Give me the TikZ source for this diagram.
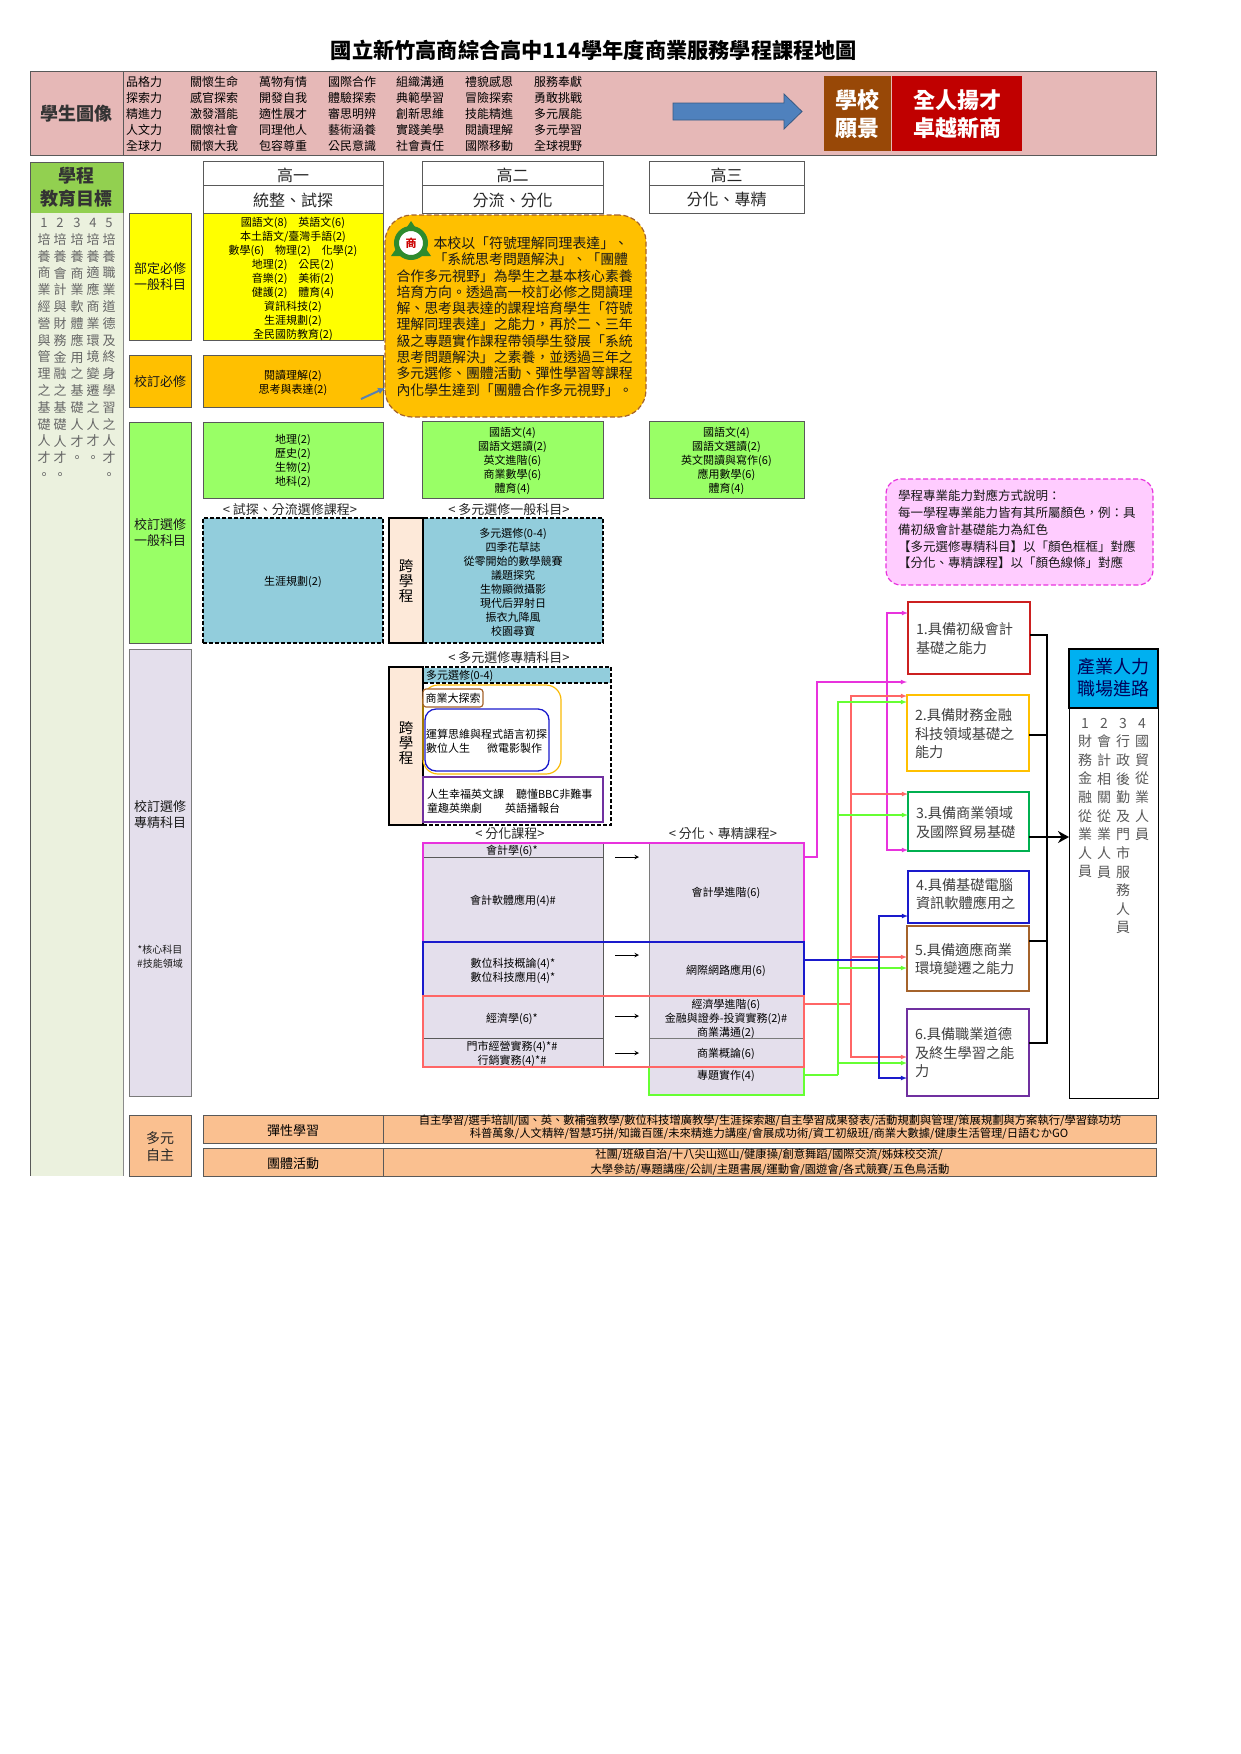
\documentclass[tikz,border=0pt]{standalone}
\usepackage{fontspec}
\setmainfont{Noto Sans CJK TC}
\usetikzlibrary{arrows,arrows.meta,positioning,fit}

\definecolor{bandpink}{HTML}{E6B8B7}
\definecolor{edgegray}{HTML}{595959}
\definecolor{palegreen}{HTML}{EBF1DE}
\definecolor{headgreen}{HTML}{92D050}
\definecolor{brightyellow}{HTML}{FFFF00}
\definecolor{orangefill}{HTML}{FFC000}
\definecolor{lawn}{HTML}{99FF66}
\definecolor{teal}{HTML}{92CDDC}
\definecolor{lavender}{HTML}{E4DFEC}
\definecolor{peach}{HTML}{FDE9D9}
\definecolor{salmon}{HTML}{FAC090}
\definecolor{schoolbrown}{HTML}{984807}
\definecolor{schoolred}{HTML}{C00000}
\definecolor{arrowblue}{HTML}{4F81BD}
\definecolor{notepink}{HTML}{FFCCFF}
\definecolor{linkpink}{HTML}{E833DD}
\definecolor{linkred}{HTML}{FF6666}
\definecolor{linkgreen}{HTML}{66FF33}
\definecolor{linkblue}{HTML}{1A1ACC}
\definecolor{compbrown}{HTML}{A5632B}
\definecolor{comppurple}{HTML}{7030A0}
\definecolor{compgreen}{HTML}{00B050}
\definecolor{compred}{HTML}{CC2020}
\definecolor{skyblue}{HTML}{00B0F0}
\definecolor{logogreen}{HTML}{2E8B2E}
\newcommand{\fsz}[2]{\fontsize{#1}{#2}\selectfont}

\tikzset{
	area/.style={inner sep=0pt, outer sep=0pt, draw=edgegray, line width=.8pt},
	txt/.style={inner sep=0pt, outer sep=0pt, align=center, font=\fsz{11}{14}},
	rowtxt/.style={inner sep=0pt, outer sep=0pt, align=left, anchor=west, font=\fsz{12}{16}},
	captxt/.style={inner sep=0pt, outer sep=0pt, font=\fsz{13}{15}, text=black!85},
	cattxt/.style={inner sep=0pt, outer sep=0pt, align=center, font=\fsz{13}{16}, text=black!90},
	yeartxt/.style={inner sep=0pt, outer sep=0pt, font=\fsz{16}{18}, text=black!85},
	whitetxt/.style={inner sep=0pt, outer sep=0pt, align=center, text=white, font=\fsz{22}{28}\bfseries},
	headtxt/.style={inner sep=0pt, outer sep=0pt, align=center, font=\fsz{18}{23}\bfseries, text=black!80},
	dashbox/.style={area, draw=black, dash pattern=on 4pt off 2pt, line width=1.2pt, fill=teal},
	crossbox/.style={area, draw=black, line width=1.3pt, fill=peach},
	crosstxt/.style={inner sep=0pt, align=center, font=\fsz{14.5}{15}},
	objcol/.style={inner sep=0pt, align=center, anchor=north, font=\fsz{13}{16.8}, text=black!60},
	jobcol/.style={inner sep=0pt, align=center, anchor=north, font=\fsz{14}{18.6}, text=black!65},
	compbox/.style={area, line width=1.4pt, fill=white},
	comptxt/.style={inner sep=0pt, align=left, text width=104pt, font=\fsz{14.2}{18.5}, text=black!75},
	linkline/.style={line width=1.1pt},
	busline/.style={line width=2pt, draw=black},
	gaparrow/.style={-stealth, line width=1pt, shorten <=12pt, shorten >=10pt},
}

\begin{document}
\begin{tikzpicture}[x=1pt,y=-1pt]
	\useasboundingbox (0,0) rectangle (1240,1754);

	\node (title) [inner sep=0pt, font=\fsz{21.2}{24}\bfseries] at (594,50) {國立新竹高商綜合高中114學年度商業服務學程課程地圖};

	\node (band) [area, fill=bandpink, fit={(123,71) (1156,155)}] {};
	\node (portrait) [area, fill=bandpink, fit={(30,71) (123,155)}] {};
	\node (portraitTxt) [headtxt] at (76,114) {學生圖像};
	\node (traitA) [rowtxt] at (126,114) {品格力\\探索力\\精進力\\人文力\\全球力};
	\node (traitB) [rowtxt] at (190,114) {關懷生命\\感官探索\\激發潛能\\關懷社會\\關懷大我};
	\node (traitC) [rowtxt] at (259,114) {萬物有情\\開發自我\\適性展才\\同理他人\\包容尊重};
	\node (traitD) [rowtxt] at (328,114) {國際合作\\體驗探索\\審思明辨\\藝術涵養\\公民意識};
	\node (traitE) [rowtxt] at (396,114) {組織溝通\\典範學習\\創新思維\\實踐美學\\社會責任};
	\node (traitF) [rowtxt] at (465,114) {禮貌感恩\\冒險探索\\技能精進\\閱讀理解\\國際移動};
	\node (traitG) [rowtxt] at (534,114) {服務奉獻\\勇敢挑戰\\多元展能\\多元學習\\全球視野};
	\draw [arrowblue!70!black, fill=arrowblue, line width=.8pt] (673,103) -- (784,103) -- (784,94) -- (802,111.5) -- (784,129) -- (784,120) -- (673,120) -- cycle;
	\node (visionHead) [area, draw=none, fill=schoolbrown, fit={(824,76) (891,151)}] {};
	\node (visionBody) [area, draw=none, fill=schoolred, fit={(892,76) (1022,151)}] {};
	\node (visionHeadTxt) [whitetxt] at (857.5,114) {學校\\願景};
	\node (visionBodyTxt) [whitetxt] at (957,114) {全人揚才\\卓越新商};

	\node (eduHead) [area, fill=headgreen, fit={(30,162) (123,213)}] {};
	\node (eduHeadTxt) [headtxt] at (76,187) {學程\\教育目標};
	\node (eduBody) [inner sep=0pt, outer sep=0pt, fill=palegreen, fit={(30,213) (123,1176)}] {};
	\draw [edgegray, line width=.8pt] (eduBody.north west) -- (eduBody.south west);
	\draw [edgegray!70, line width=.8pt] (eduBody.north east) -- (eduBody.south east);
	\node (eduA) [objcol] at (44,218) {1\\培\\養\\商\\業\\經\\營\\與\\管\\理\\之\\基\\礎\\人\\才\\。};
	\node (eduB) [objcol] at (60,218) {2\\培\\養\\會\\計\\與\\財\\務\\金\\融\\之\\基\\礎\\人\\才\\。};
	\node (eduC) [objcol] at (77,218) {3\\培\\養\\商\\業\\軟\\體\\應\\用\\之\\基\\礎\\人\\才\\。};
	\node (eduD) [objcol] at (93,218) {4\\培\\養\\適\\應\\商\\業\\環\\境\\變\\遷\\之\\人\\才\\。};
	\node (eduE) [objcol] at (109,218) {5\\培\\養\\職\\業\\道\\德\\及\\終\\身\\學\\習\\之\\人\\才\\。};

	\node (yearA) [area, fit={(203,161) (383,185)}] {};
	\node (focusA) [area, fit={(203,185) (383,213)}] {};
	\node (yearB) [area, fit={(422,161) (603,185)}] {};
	\node (focusB) [area, fit={(422,185) (603,213)}] {};
	\node (yearC) [area, fit={(649,161) (804,185)}] {};
	\node (focusC) [area, fit={(649,185) (804,213)}] {};
	\node (yearATxt) [yeartxt] at (293,175) {高一};
	\node (focusATxt) [yeartxt] at (293,200) {統整、試探};
	\node (yearBTxt) [yeartxt] at (512.5,175) {高二};
	\node (focusBTxt) [yeartxt] at (512.5,200) {分流、分化};
	\node (yearCTxt) [yeartxt] at (726.5,175) {高三};
	\node (focusCTxt) [yeartxt] at (726.5,200) {分化、專精};

	\node (reqCat) [area, fill=brightyellow, fit={(129,213) (191,340)}] {};
	\node (reqCatTxt) [cattxt] at (160,277) {部定必修\\一般科目};
	\node (reqBox) [area, fill=brightyellow, fit={(203,213) (383,340)}] {};
	\node (reqTxt) [txt] at (293,279) {國語文(8)\quad 英語文(6)\\本土語文/臺灣手語(2)\\數學(6)\quad 物理(2)\quad 化學(2)\\地理(2)\quad 公民(2)\\音樂(2)\quad 美術(2)\\健護(2)\quad 體育(4)\\資訊科技(2)\\生涯規劃(2)\\全民國防教育(2)};
	\node (schCat) [area, fill=orangefill, fit={(129,355) (191,407)}] {};
	\node (schCatTxt) [cattxt] at (160,382) {校訂必修};
	\node (schBox) [area, fill=orangefill, fit={(203,355) (383,407)}] {};
	\node (schTxt) [txt] at (293,383) {閱讀理解(2)\\思考與表達(2)};

	\node (bubble) [area, draw=compbrown, dash pattern=on 5pt off 2.5pt, line width=1.2pt, rounded corners=27pt, fill=orangefill, fit={(385,215) (646,417)}] {};
	\node (bubbleTxt) [inner sep=0pt, align=left, text width=238pt, font=\fsz{13.9}{16.3}, text=black!90] at (515.5,316.5) {\hspace*{37pt}本校以「符號理解同理表達」、\\\hspace*{37pt}「系統思考問題解決」、「團體\\合作多元視野」為學生之基本核心素養\\培育方向。透過高一校訂必修之閱讀理\\解、思考與表達的課程培育學生「符號\\理解同理表達」之能力，再於二、三年\\級之專題實作課程帶領學生發展「系統\\思考問題解決」之素養，並透過三年之\\多元選修、團體活動、彈性學習等課程\\內化學生達到「團體合作多元視野」。};
	\coordinate (noteTail) at (361,399);
	\draw [-{Latex[length=7pt,width=7pt]}, arrowblue!80!gray, line width=2pt] (noteTail) -- (bubble.west |- 0,388);
	\node (logoRing) [circle, draw=logogreen, line width=5pt, fill=white, inner sep=0pt, minimum size=29pt] at (411,243) {};
	\fill [logogreen] (411,221) -- (405,230) -- (417,230) -- cycle;
	\fill [logogreen] (391,256) -- (398,246) -- (404,256) -- cycle;
	\fill [logogreen] (431,256) -- (424,246) -- (418,256) -- cycle;
	\node (logoText) [inner sep=0pt, text=red!80!black, font=\fsz{11}{11}\bfseries] at (411,243) {商};

	\node (genCat) [area, fill=lawn, fit={(129,422) (191,643)}] {};
	\node (genCatTxt) [cattxt] at (160,533) {校訂選修\\一般科目};
	\node (genA) [area, fill=lawn, fit={(203,422) (383,498)}] {};
	\node (genB) [area, fill=lawn, fit={(422,421) (603,498)}] {};
	\node (genC) [area, fill=lawn, fit={(649,421) (804,498)}] {};
	\node (genATxt) [txt] at (293,460.5) {地理(2)\\歷史(2)\\生物(2)\\地科(2)};
	\node (genBTxt) [txt] at (512.5,460.5) {國語文(4)\\國語文選讀(2)\\英文進階(6)\\商業數學(6)\\體育(4)};
	\node (genCTxt) [txt] at (726.5,460.5) {國語文(4)\\國語文選讀(2)\\英文閱讀與寫作(6)\\應用數學(6)\\體育(4)};

	\node (capTrial) [captxt] at (290,510) {< 試探、分流選修課程>};
	\node (capGeneral) [captxt] at (509,510) {< 多元選修一般科目>};
	\node (trialBox) [dashbox, fit={(203,518) (383,643)}] {};
	\node (trialTxt) [txt] at (293,582) {生涯規劃(2)};
	\node (generalBox) [dashbox, fit={(423,518) (603,643)}] {};
	\node (crossA) [crossbox, fit={(389,518) (423,643)}] {};
	\node (crossATxt) [crosstxt] at (406,581) {跨\\學\\程};
	\node (generalTxt) [txt] at (513,582) {多元選修(0-4)\\四季花草誌\\從零開始的數學競賽\\議題探究\\生物顯微攝影\\現代后羿射日\\振衣九降風\\校園尋寶};

	\node (specCat) [area, fill=lavender, draw=edgegray!80, fit={(129,649) (191,1096)}] {};
	\node (specCatTxt) [cattxt] at (160,815) {校訂選修\\專精科目};
	\node (specNote) [inner sep=0pt, align=center, font=\fsz{10}{14}, text=black!90] at (160,957) {*核心科目\\\#技能領域};

	\node (capSpec) [captxt] at (509,658) {< 多元選修專精科目>};
	\node (specOuter) [area, draw=black, dash pattern=on 4pt off 2pt, line width=1.2pt, fit={(423,667) (611,825)}] {};
	\node (specTop) [inner sep=0pt, outer sep=0pt, fill=teal, fit={(424,668) (610,683)}] {};
	\draw [black, dash pattern=on 4pt off 2pt, line width=1.2pt] (specTop.south west) -- (specTop.south east);
	\node (specTopTxt) [txt, anchor=west] at (426,676) {多元選修(0-4)};
	\node (crossB) [crossbox, fit={(389,667) (423,825)}] {};
	\node (crossBTxt) [crosstxt] at (406,743) {跨\\學\\程};
	\node (goldRound) [area, draw=orangefill!90!brown, line width=1.2pt, rounded corners=15pt, fit={(423,685) (561,774)}] {};
	\node (bizExplore) [area, draw=compbrown, line width=1.2pt, rounded corners=3pt, fill=white, fit={(423,689) (483,707)}] {};
	\node (bizExploreTxt) [txt] at (453,698) {商業大探索};
	\node (blueRound) [area, draw=linkblue, line width=1.3pt, rounded corners=11pt, fit={(425,709) (549,771)}] {};
	\node (blueTxtA) [txt, anchor=west] at (426,734) {運算思維與程式語言初探};
	\node (blueTxtB) [txt, anchor=west] at (426,748) {數位人生};
	\node (blueTxtC) [txt, anchor=west] at (487,748) {微電影製作};
	\node (purpleBox) [area, draw=comppurple, line width=1.2pt, fit={(423,777) (603,822)}] {};
	\node (purpleTxtA) [txt, anchor=west] at (427,794) {人生幸福英文課};
	\node (purpleTxtB) [txt, anchor=west] at (516,794) {聽懂BBC非難事};
	\node (purpleTxtC) [txt, anchor=west] at (427,808) {童趣英樂劇};
	\node (purpleTxtD) [txt, anchor=west] at (505,808) {英語播報台};

	\node (capBranch) [captxt] at (510,834) {< 分化課程>};
	\node (capMajor) [captxt] at (723,834) {< 分化、專精課程>};
	\node (acctA) [area, fill=lavender, fit={(423,843) (603,857)}] {};
	\node (acctB) [area, fill=lavender, fit={(423,857) (603,942)}] {};
	\node (digi) [area, fill=lavender, fit={(423,942) (603,996)}] {};
	\node (econ) [area, fill=lavender, fit={(423,996) (603,1038)}] {};
	\node (shop) [area, fill=lavender, fit={(423,1038) (603,1067)}] {};
	\node (acctR) [area, draw=edgegray!80, fill=lavender, fit={(649,843) (804,942)}] {};
	\node (netR) [area, draw=edgegray!80, fill=lavender, fit={(649,942) (804,996)}] {};
	\node (econR) [area, draw=edgegray!80, fill=lavender, fit={(649,996) (804,1038)}] {};
	\node (bizR) [area, draw=edgegray!80, fill=lavender, fit={(649,1038) (804,1067)}] {};
	\node (projR) [area, draw=linkgreen, line width=1.4pt, fill=lavender, fit={(649,1067) (804,1095)}] {};
	\node (acctATxt) [txt] at (512,851) {會計學(6)*};
	\node (acctBTxt) [txt] at (513,901) {會計軟體應用(4)\#};
	\node (digiTxt) [txt] at (513,971) {數位科技概論(4)*\\數位科技應用(4)*};
	\node (econTxt) [txt] at (512,1019) {經濟學(6)*};
	\node (shopTxt) [txt] at (512,1054) {門市經營實務(4)*\#\\行銷實務(4)*\#};
	\node (acctRTxt) [txt] at (726,893) {會計學進階(6)};
	\node (netRTxt) [txt] at (726,971) {網際網路應用(6)};
	\node (econRTxt) [txt] at (726,1019) {經濟學進階(6)\\金融與證券-投資實務(2)\#\\商業溝通(2)};
	\node (bizRTxt) [txt] at (726,1054) {商業概論(6)};
	\node (projRTxt) [txt] at (726,1076) {專題實作(4)};
	\draw [linkpink, line width=1.4pt] (acctA.north west) rectangle (acctR.south east);
	\draw [linkblue, line width=1.4pt] (digi.north west) rectangle (netR.south east);
	\draw [linkred, line width=1.4pt] (econ.north west) rectangle (bizR.south east);
	\draw [gaparrow] (acctA.south east) -- (acctR.west |- acctA.south east);
	\draw [gaparrow] (digi.east |- 0,955) -- (netR.west |- 0,955);
	\draw [gaparrow] (econ.east |- 0,1016) -- (econR.west |- 0,1016);
	\draw [gaparrow] (shop.east |- 0,1053) -- (bizR.west |- 0,1053);

	\node (note) [area, draw=linkpink, dash pattern=on 5pt off 2.5pt, line width=1.2pt, rounded corners=15pt, fill=notepink, fit={(886,479) (1153,585)}] {};
	\node (noteTxt) [inner sep=0pt, align=left, text width=243pt, font=\fsz{12.5}{16.7}, text=black!90] at (1019.5,529.5) {學程專業能力對應方式說明：\\每一學程專業能力皆有其所屬顏色，例：具\\備初級會計基礎能力為紅色\\【多元選修專精科目】以「顏色框框」對應\\【分化、專精課程】以「顏色線條」對應};

	\node (comp1) [compbox, draw=compred, fit={(908,602) (1030,674)}] {};
	\node (comp2) [compbox, draw=orangefill, fit={(907,695) (1029,771)}] {};
	\node (comp3) [compbox, draw=compgreen, fit={(908,792) (1029,851)}] {};
	\node (comp4) [compbox, draw=linkblue, fit={(908,871) (1029,923)}] {};
	\node (comp5) [compbox, draw=compbrown, fit={(907,926) (1029,991)}] {};
	\node (comp6) [compbox, draw=comppurple, fit={(907,1009) (1029,1096)}] {};
	\node (comp1Txt) [comptxt] at (968,638.5) {1.具備初級會計\\基礎之能力};
	\node (comp2Txt) [comptxt] at (967,734) {2.具備財務金融\\科技領域基礎之\\能力};
	\node (comp3Txt) [comptxt] at (968,822.5) {3.具備商業領域\\及國際貿易基礎};
	\node (comp4Txt) [comptxt] at (968,894) {4.具備基礎電腦\\資訊軟體應用之};
	\node (comp5Txt) [comptxt] at (967,959) {5.具備適應商業\\環境變遷之能力};
	\node (comp6Txt) [comptxt] at (967,1053) {6.具備職業道德\\及終生學習之能\\力};

	\node (careerHead) [area, draw=black, line width=1.5pt, fill=skyblue, fit={(1069,649) (1158,708)}] {};
	\node (careerHeadTxt) [inner sep=0pt, align=center, font=\fsz{18}{22}, text=black!65!blue] at (1113.5,678) {產業人力\\職場進路};
	\node (careerBody) [area, draw=black, line width=1pt, fit={(1069,708) (1158,1098)}] {};
	\node (jobA) [jobcol] at (1085,718) {1\\財\\務\\金\\融\\從\\業\\人\\員};
	\node (jobB) [jobcol] at (1104,718) {2\\會\\計\\相\\關\\從\\業\\人\\員};
	\node (jobC) [jobcol] at (1123,718) {3\\行\\政\\後\\勤\\及\\門\\市\\服\\務\\人\\員};
	\node (jobD) [jobcol] at (1142,718) {4\\國\\貿\\從\\業\\人\\員};

	\coordinate (busTop) at (1047,635);
	\coordinate (busBot) at (1047,1043);
	\draw [busline] (comp1.east |- busTop) -- (busTop) -- (busBot) -- (comp6.east |- busBot);
	\draw [busline] (comp2.east |- 0,735) -- (busTop |- 0,735);
	\draw [busline] (comp5.east |- 0,941) -- (busTop |- 0,941);
	\draw [busline, -{Stealth[length=11pt,width=12pt]}, line width=2.5pt] (comp3.east |- 0,837) -- (careerBody.west |- 0,837);

	\coordinate (pinkTrunk) at (817,682);
	\coordinate (pinkBranch) at (887,682);
	\draw [linkline, linkpink, -latex] (acctR.east |- 0,857) -| (pinkTrunk) -- (comp2.west |- pinkTrunk);
	\draw [linkline, linkpink, latex-latex] (comp1.west |- 0,613) -- (pinkBranch |- 0,613) -- (pinkBranch |- 0,850) -- (comp3.west |- 0,850);

	\coordinate (redTrunk) at (851,696);
	\draw [linkline, linkred] (econR.east |- 0,1004) -- (redTrunk |- 0,1004);
	\draw [linkline, linkred, latex-latex] (comp2.west |- redTrunk) -- (redTrunk) -- (redTrunk |- 0,1057) -- (comp6.west |- 0,1057);
	\draw [linkline, linkred, -latex] (redTrunk |- 0,794) -- (comp3.west |- 0,794);
	\draw [linkline, linkred, -latex] (redTrunk |- 0,957) -- (comp5.west |- 0,957);

	\coordinate (greenTrunk) at (838,702);
	\draw [linkline, linkgreen] (projR.east |- 0,1075) -- (greenTrunk |- 0,1075);
	\draw [linkline, linkgreen, latex-] (comp2.west |- greenTrunk) -- (greenTrunk) -- (greenTrunk |- 0,1075);
	\draw [linkline, linkgreen, -latex] (greenTrunk |- 0,815) -- (comp3.west |- 0,815);
	\draw [linkline, linkgreen, -latex] (greenTrunk |- 0,968) -- (comp5.west |- 0,968);
	\draw [linkline, linkgreen, -latex] (greenTrunk |- 0,1063) -- (comp6.west |- 0,1063);

	\coordinate (blueTrunk) at (879,916);
	\draw [linkline, linkblue] (netR.east |- 0,960) -- (blueTrunk |- 0,960);
	\draw [linkline, linkblue, latex-latex] (comp4.west |- blueTrunk) -- (blueTrunk) -- (blueTrunk |- 0,1078) -- (comp6.west |- 0,1078);

	\node (autoCat) [area, fill=salmon, fit={(129,1115) (191,1176)}] {};
	\node (autoCatTxt) [inner sep=0pt, align=center, font=\fsz{14}{17}, text=black!85] at (160,1146.5) {多元\\自主};
	\node (flexHead) [area, fill=salmon, fit={(203,1115) (383,1143)}] {};
	\node (flexHeadTxt) [txt, font=\fsz{13}{15}] at (293,1131) {彈性學習};
	\node (flexBody) [area, fill=salmon, fit={(383,1115) (1156,1143)}] {};
	\node (flexTxtA) [txt, font=\fsz{11.3}{13}] at (770,1121) {自主學習/選手培訓/國、英、數補強教學/數位科技增廣教學/生涯探索趣/自主學習成果發表/活動規劃與管理/策展規劃與方案執行/學習錄功坊};
	\node (flexTxtB) [txt, font=\fsz{11.3}{13}] at (769,1134) {科普萬象/人文精粹/智慧巧拼/知識百匯/未來精進力講座/會展成功術/資工初級班/商業大數據/健康生活管理/日語むかGO};
	\node (teamHead) [area, fill=salmon, fit={(203,1148) (383,1176)}] {};
	\node (teamHeadTxt) [txt, font=\fsz{13}{15}] at (293,1164) {團體活動};
	\node (teamBody) [area, fill=salmon, fit={(383,1148) (1156,1176)}] {};
	\node (teamTxtA) [txt, font=\fsz{11.3}{13}] at (769,1155) {社團/班級自治/十八尖山巡山/健康操/創意舞蹈/國際交流/姊妹校交流/};
	\node (teamTxtB) [txt, font=\fsz{11.3}{13}] at (770,1170) {大學參訪/專題講座/公訓/主題書展/運動會/園遊會/各式競賽/五色鳥活動};
\end{tikzpicture}
\end{document}
